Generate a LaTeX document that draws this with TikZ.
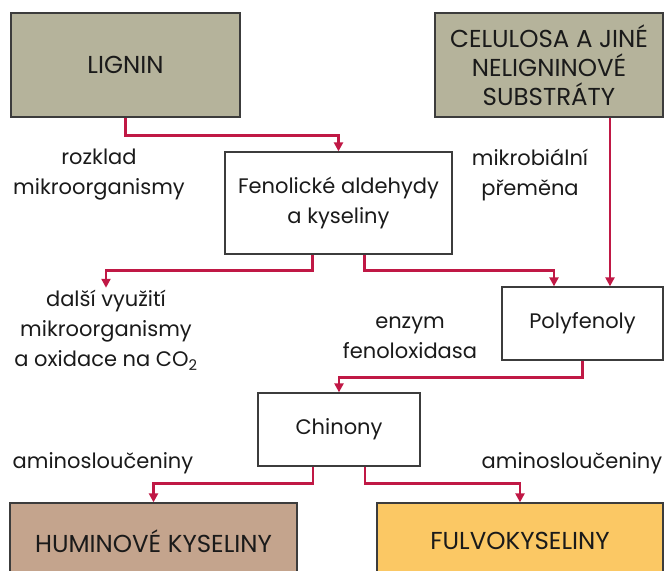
\documentclass[tikz,border=0pt]{standalone}
\usepackage{fontspec}
\setmainfont{Poppins}
\usetikzlibrary{arrows.meta,positioning,calc}
\definecolor{ink}{HTML}{1A1A1A}
\definecolor{frame}{HTML}{3C3C3C}
\definecolor{crimson}{HTML}{C01845}
\definecolor{olive}{HTML}{B5B39B}
\definecolor{clay}{HTML}{C4A48D}
\definecolor{amber}{HTML}{FBC864}
\tikzset{
  every node/.style={font=\fontsize{21}{30}\selectfont,text=ink},
  arr/.style={-{Triangle[length=9pt,width=9pt]},line width=2.4pt,draw=crimson},
  box/.style={draw=frame,line width=1.3pt,fill=white,align=center,inner sep=0pt},
  capsbox/.style={box,font=\fontsize{24.5}{29}\selectfont},
  label/.style={align=center,inner sep=0pt}
}

\begin{document}
\begin{tikzpicture}[x=1pt,y=-1pt]
  \clip (0,0) rectangle (665,571);

  % sources
  \node[capsbox,fill=olive,minimum width=229pt,minimum height=104pt] (lignin) at (125.5,65) {LIGNIN};
  \node[capsbox,fill=olive,minimum width=228pt,minimum height=104pt] (celulosa) at (549,65) {CELULOSA A JINÉ\\NELIGNINOVÉ\\SUBSTRÁTY};

  % intermediates
  \node[box,minimum width=227pt,minimum height=102pt] (fenol) at (338.5,203) {Fenolické aldehydy\\a kyseliny};
  \node[box,minimum width=161pt,minimum height=73pt] (poly) at (582.5,323.5) {Polyfenoly};
  \node[box,minimum width=162pt,minimum height=73pt] (chinon) at (339,429.5) {Chinony};

  % products
  \node[capsbox,fill=clay,minimum width=287pt,minimum height=76pt] (humin) at (153.5,541) {HUMINOVÉ KYSELINY};
  \node[capsbox,fill=amber,minimum width=286pt,minimum height=76pt] (fulvo) at (520,541) {FULVOKYSELINY};

  % labels
  \node[label] (rozklad) at (99,175) {rozklad\\mikroorganismy};
  \node[label] (premena) at (530,175) {mikrobiální\\přeměna};
  \node[label] (dalsi) at (106,330) {další využití\\mikroorganismy\\a oxidace na CO\textsubscript{2}};
  \node[label] (enzym) at (410,338) {enzym\\fenoloxidasa};
  \node[label] (aminoL) at (103,463) {aminosloučeniny};
  \node[label] (aminoR) at (572,463) {aminosloučeniny};

  % connectors
  \coordinate (celdrop) at ([xshift=61pt]celulosa.south);
  \draw[arr] (lignin.south) -- ++(0,18) -| (fenol.north);
  \draw[arr] (celdrop) -- (celdrop |- poly.north);
  \draw[arr,shorten >=2pt] ([xshift=-26pt]fenol.south) -- ++(0,16) -| (dalsi.north);
  \draw[arr] ([xshift=26pt]fenol.south) -- ++(0,16) -| ([xshift=-28.5pt]poly.north);
  \draw[arr] (poly.south) -- ++(0,17) -| (chinon.north);
  \draw[arr] ([xshift=-26pt]chinon.south) -- ++(0,17) -| (humin.north);
  \draw[arr] ([xshift=26pt]chinon.south) -- ++(0,17) -| (fulvo.north);
\end{tikzpicture}
\end{document}
